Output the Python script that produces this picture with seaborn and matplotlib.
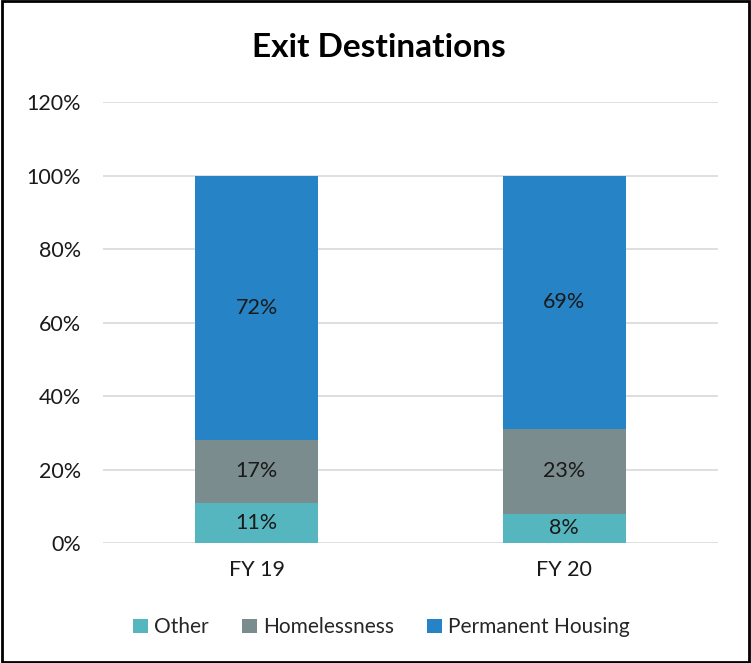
import matplotlib
matplotlib.use("Agg")
import matplotlib.pyplot as plt
import seaborn as sns
import pandas as pd
import numpy as np
from matplotlib.patches import Patch, Rectangle

categories = ["FY 19", "FY 20"]
series_names = ["Other", "Homelessness", "Permanent Housing"]
other = [11, 8]
homelessness = [17, 23]
permanent = [72, 69]
colors = ["#56B6C0", "#7A8C8E", "#2683C6"]
yticks = [0, 20, 40, 60, 80, 100, 120]

sns.set_theme(style="white")
plt.rcParams["font.family"] = ["Lato", "DejaVu Sans"]

fig = plt.figure(figsize=(7.51, 6.63), dpi=100)
ax = fig.add_axes([0.137, 0.181, 0.819, 0.665])

vals = [other, homelessness, permanent]
cum = np.cumsum(np.array(vals), axis=0)

# draw from top layer down so lower segments overlay
for i in reversed(range(3)):
    df = pd.DataFrame({"cat": categories, "val": cum[i]})
    sns.barplot(data=df, x="cat", y="val", color=colors[i], width=0.4,
                saturation=1, ax=ax, zorder=3, edgecolor="none", linewidth=0)

# labels
for j in range(len(categories)):
    bottom = 0
    for i in range(3):
        v = vals[i][j]
        ax.text(j, bottom + v / 2, f"{v}%", ha="center", va="center",
                fontsize=15.5, color="#1a1a1a", zorder=5)
        bottom += v

ax.set_ylim(0, 120)
ax.set_xlim(-0.5, 1.5)
ax.set_yticks(yticks)
ax.set_yticklabels([f"{t}%" for t in yticks], fontsize=15.5, color="#1a1a1a")
ax.tick_params(axis="x", labelsize=15.5, colors="#1a1a1a", length=0, pad=12)
ax.tick_params(axis="y", length=0, pad=16)
ax.set_xlabel("")
ax.set_ylabel("")
ax.yaxis.grid(True, color="#D9D9D9", linewidth=1.2, zorder=0)
ax.set_axisbelow(True)
for s in ax.spines.values():
    s.set_visible(False)

fig.text(0.505, 0.928, "Exit Destinations", ha="center", va="center",
         fontsize=24, fontweight="bold", color="#000000")

handles = [Patch(facecolor=c, edgecolor="none") for c in colors]
fig.legend(handles, series_names, loc="center", bbox_to_anchor=(0.508, 0.054),
           ncol=3, frameon=False, fontsize=15, handlelength=0.7, handleheight=0.7,
           handletextpad=0.3, columnspacing=1.6)

fig.patches.append(Rectangle((0.002, 0.002), 0.996, 0.996, transform=fig.transFigure,
                             fill=False, edgecolor="black", linewidth=2))

fig.savefig("out.png", dpi=100)
